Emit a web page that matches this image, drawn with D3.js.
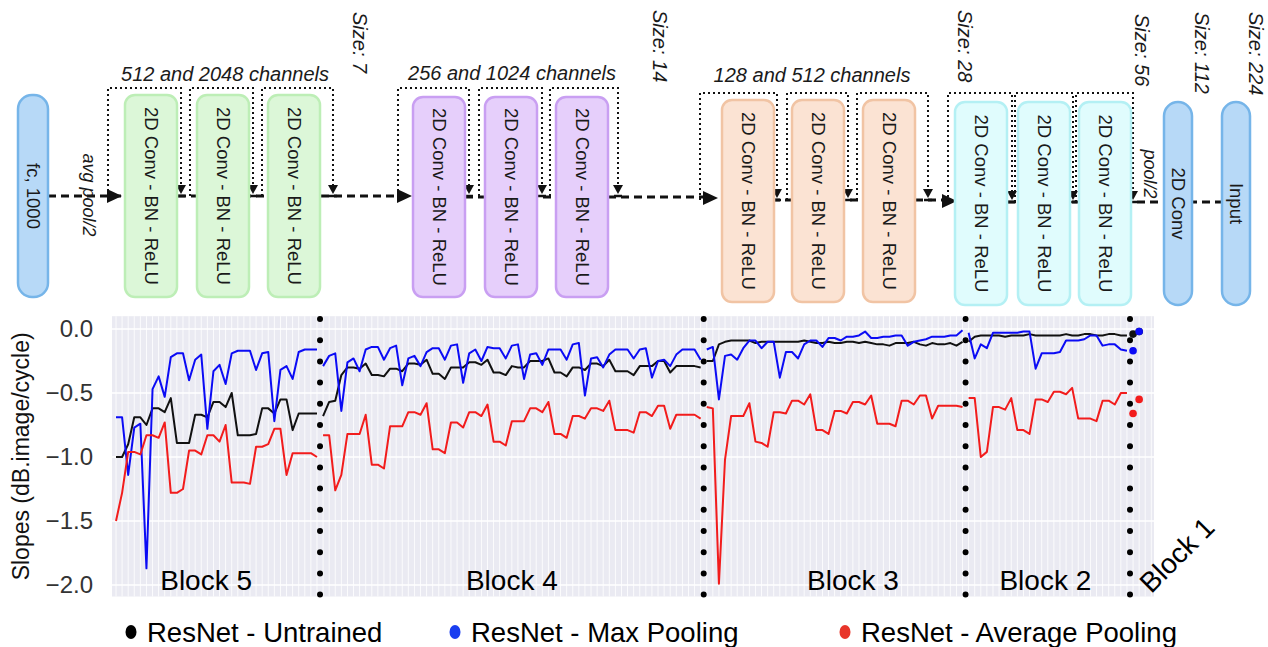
<!DOCTYPE html>
<html>
<head>
<meta charset="utf-8">
<script src="https://cdn.jsdelivr.net/npm/d3@7"></script>
<style>
  html, body { margin: 0; padding: 0; background: #fff; }
  svg { display: block; font-family: 'Liberation Sans', Arial, Helvetica, sans-serif; }
</style>
</head>
<body>
<svg id="chart" width="1268" height="647"></svg>
<script>
// ---- data ----
const blockNames = ['Block 5', 'Block 4', 'Block 3', 'Block 2', 'Block 1'];
const blockSizes = [34, 63, 43, 27, 2];
const yTicks = [0, -0.5, -1, -1.5, -2];
const seriesNames = ['ResNet - Untrained', 'ResNet - Max Pooling', 'ResNet - Average Pooling'];

const untrained = [
  // block 5
  -1.00, -1.00, -0.90, -0.69, -0.69, -0.75, -0.62, -0.62, -0.65, -0.54,
  -0.89, -0.89, -0.89, -0.67, -0.67, -0.69, -0.57, -0.57, -0.61, -0.50,
  -0.83, -0.83, -0.83, -0.82, -0.62, -0.62, -0.66, -0.55, -0.55, -0.79,
  -0.66, -0.66, -0.66, -0.66,
  // block 4
  -0.68, -0.57, -0.56, -0.36, -0.30, -0.30, -0.31, -0.27, -0.36, -0.36,
  -0.37, -0.31, -0.31, -0.33, -0.27, -0.27, -0.28, -0.24, -0.35, -0.35,
  -0.39, -0.30, -0.30, -0.30, -0.26, -0.26, -0.28, -0.24, -0.34, -0.34,
  -0.36, -0.29, -0.30, -0.30, -0.25, -0.25, -0.25, -0.23, -0.34, -0.34,
  -0.37, -0.30, -0.30, -0.32, -0.27, -0.27, -0.29, -0.24, -0.33, -0.33,
  -0.33, -0.36, -0.29, -0.29, -0.29, -0.25, -0.25, -0.34, -0.29, -0.29,
  -0.29, -0.29, -0.30,
  // block 3
  -0.25, -0.25, -0.12, -0.10, -0.09, -0.09, -0.09, -0.09, -0.11, -0.10,
  -0.10, -0.10, -0.10, -0.10, -0.10, -0.10, -0.09, -0.10, -0.11, -0.11,
  -0.10, -0.11, -0.11, -0.10, -0.10, -0.11, -0.10, -0.11, -0.12, -0.12,
  -0.13, -0.11, -0.11, -0.11, -0.10, -0.12, -0.13, -0.11, -0.12, -0.12,
  -0.11, -0.13, -0.10,
  // block 2
  -0.10, -0.06, -0.05, -0.05, -0.05, -0.05, -0.06, -0.05, -0.05, -0.05,
  -0.04, -0.05, -0.05, -0.05, -0.05, -0.05, -0.04, -0.05, -0.05, -0.04,
  -0.04, -0.05, -0.05, -0.04, -0.04, -0.05, -0.05,
  // block 1
  -0.04, -0.02
];

const maxPooling = [
  // block 5
  -0.69, -0.69, -1.14, -0.77, -0.74, -1.87, -0.47, -0.37, -0.53, -0.22,
  -0.19, -0.19, -0.40, -0.24, -0.20, -0.78, -0.33, -0.28, -0.43, -0.19,
  -0.17, -0.17, -0.17, -0.32, -0.19, -0.18, -0.72, -0.32, -0.29, -0.39,
  -0.18, -0.16, -0.16, -0.16,
  // block 4
  -0.29, -0.21, -0.19, -0.64, -0.26, -0.23, -0.33, -0.16, -0.14, -0.14,
  -0.24, -0.15, -0.13, -0.44, -0.23, -0.21, -0.29, -0.18, -0.15, -0.15,
  -0.24, -0.13, -0.12, -0.42, -0.19, -0.16, -0.25, -0.14, -0.15, -0.15,
  -0.23, -0.13, -0.12, -0.39, -0.20, -0.19, -0.28, -0.16, -0.16, -0.16,
  -0.24, -0.12, -0.11, -0.52, -0.23, -0.22, -0.30, -0.20, -0.16, -0.16,
  -0.16, -0.23, -0.16, -0.15, -0.38, -0.25, -0.24, -0.29, -0.20, -0.16,
  -0.16, -0.16, -0.24,
  // block 3
  -0.16, -0.14, -0.55, -0.21, -0.20, -0.24, -0.15, -0.09, -0.09, -0.15,
  -0.10, -0.10, -0.38, -0.18, -0.18, -0.23, -0.12, -0.09, -0.09, -0.14,
  -0.07, -0.07, -0.09, -0.06, -0.06, -0.05, -0.02, -0.07, -0.07, -0.06,
  -0.06, -0.05, -0.05, -0.13, -0.10, -0.09, -0.08, -0.06, -0.06, -0.06,
  -0.05, -0.05, -0.01,
  // block 2
  -0.03, -0.23, -0.12, -0.15, -0.03, -0.03, -0.03, -0.03, -0.03, -0.02,
  -0.02, -0.31, -0.19, -0.19, -0.19, -0.18, -0.09, -0.09, -0.09, -0.08,
  -0.05, -0.05, -0.13, -0.12, -0.12, -0.16, -0.17,
  // block 1
  -0.17, -0.02
];

const avgPooling = [
  // block 5
  -1.50, -1.28, -0.96, -0.96, -0.98, -0.83, -0.83, -0.85, -0.73, -1.28,
  -1.28, -1.25, -0.95, -0.95, -0.98, -0.83, -0.83, -0.88, -0.75, -1.20,
  -1.20, -1.20, -1.21, -0.92, -0.92, -0.90, -0.78, -0.78, -1.14, -0.97,
  -0.97, -0.97, -0.97, -1.00,
  // block 4
  -0.83, -0.83, -1.26, -1.14, -0.82, -0.82, -0.82, -0.67, -1.06, -1.06,
  -1.09, -0.76, -0.76, -0.76, -0.65, -0.65, -0.67, -0.58, -0.94, -0.94,
  -0.97, -0.73, -0.73, -0.77, -0.65, -0.65, -0.68, -0.59, -0.88, -0.88,
  -0.91, -0.72, -0.72, -0.72, -0.62, -0.62, -0.65, -0.57, -0.82, -0.82,
  -0.85, -0.68, -0.68, -0.70, -0.62, -0.62, -0.64, -0.56, -0.79, -0.79,
  -0.79, -0.81, -0.65, -0.65, -0.68, -0.60, -0.60, -0.78, -0.67, -0.67,
  -0.67, -0.67, -0.70,
  // block 3
  -0.61, -0.62, -1.99, -1.02, -0.68, -0.68, -0.68, -0.58, -0.88, -0.89,
  -0.92, -0.65, -0.65, -0.66, -0.56, -0.56, -0.59, -0.51, -0.79, -0.79,
  -0.82, -0.64, -0.64, -0.66, -0.57, -0.57, -0.59, -0.52, -0.74, -0.74,
  -0.74, -0.76, -0.56, -0.56, -0.59, -0.52, -0.52, -0.70, -0.60, -0.60,
  -0.60, -0.60, -0.61,
  // block 2
  -0.54, -0.54, -1.00, -0.96, -0.61, -0.61, -0.63, -0.54, -0.79, -0.79,
  -0.82, -0.55, -0.55, -0.57, -0.49, -0.49, -0.51, -0.46, -0.70, -0.70,
  -0.70, -0.72, -0.56, -0.56, -0.59, -0.50, -0.50,
  // block 1
  -0.66, -0.55
];

// ---- layout ----
const font = "'Liberation Sans', Arial, Helvetica, sans-serif";
const lineColors = ['#111111', '#0b0bf5', '#f21c1c'];
const legendColors = ['#000000', '#1a3ef0', '#e8352a'];
const blockLabelAt = [14.8, 65, 121, 152.6];

const svg = d3.select('#chart');

// ---- network diagram (top) ----
const diagram = svg.append('g');

const stages = [
  { fill: '#dcf7d8', stroke: '#bdeeb6', boxes: [125, 197, 268], y: 95, h: 202, line: 196, top: 88,
    skips: [[108, 181], [190, 253], [262, 333]], label: '512 and 2048 channels', lx: 225, ly: 81 },
  { fill: '#e6cffb', stroke: '#c99ff2', boxes: [413, 485, 556], y: 97, h: 200, line: 196, top: 88,
    skips: [[398, 469], [479, 542], [550, 618]], label: '256 and 1024 channels', lx: 512, ly: 80 },
  { fill: '#fbe3d3', stroke: '#f1c4a4', boxes: [722, 792, 863], y: 100, h: 202, line: 200, top: 93,
    skips: [[700, 777], [787, 848], [857, 928]], label: '128 and 512 channels', lx: 812, ly: 82 },
  { fill: '#e0fcfd', stroke: '#b4f0f4', boxes: [955, 1018, 1079], y: 102, h: 203, line: 202, top: 93,
    skips: [[948, 1012], [1015, 1073], [1076, 1133]], label: null }
];

const mainDashes = [[48, 400, 196], [465, 705, 197], [772, 945, 200], [1007, 1222, 202]];
const rightArrows = [[122, 196], [412, 196], [718, 198], [957, 201]];

const pills = [
  { x: 18, y: 95, w: 30, h: 202, text: 'fc, 1000' },
  { x: 1164, y: 102, w: 28, h: 203, text: '2D Conv' },
  { x: 1222, y: 102, w: 28, h: 203, text: 'Input' }
];

const sizeLabels = [
  { x: 360, y: 12, text: 'Size: 7' },
  { x: 660, y: 10, text: 'Size: 14' },
  { x: 965, y: 10, text: 'Size: 28' },
  { x: 1142, y: 14, text: 'Size: 56' },
  { x: 1202, y: 12, text: 'Size: 112' },
  { x: 1256, y: 12, text: 'Size: 224' }
];

// skip connections (dotted)
stages.forEach(s => {
  s.skips.forEach(([x1, x2]) => {
    diagram.append('path')
      .attr('d', `M${x1},${s.line} V${s.top} H${x2} V${s.line - 10}`)
      .attr('fill', 'none')
      .attr('stroke', '#111')
      .attr('stroke-width', 2)
      .attr('stroke-dasharray', '2,3');
    diagram.append('path')
      .attr('d', `M${x2 - 5},${s.line - 11} L${x2 + 5},${s.line - 11} L${x2},${s.line - 2} Z`)
      .attr('fill', '#111');
    diagram.append('line')
      .attr('x1', x2 - 4).attr('x2', x2 + 4)
      .attr('y1', s.line).attr('y2', s.line)
      .attr('stroke', '#111').attr('stroke-width', 2.5);
  });
});

// main dashed path
mainDashes.forEach(([x1, x2, y]) => {
  diagram.append('line')
    .attr('x1', x1).attr('x2', x2).attr('y1', y).attr('y2', y)
    .attr('stroke', '#111')
    .attr('stroke-width', 3)
    .attr('stroke-dasharray', '8,5');
});

rightArrows.forEach(([x, y]) => {
  diagram.append('path')
    .attr('d', `M${x - 15},${y - 7} L${x},${y} L${x - 15},${y + 7} Z`)
    .attr('fill', '#111');
});

// conv boxes
stages.forEach(s => {
  s.boxes.forEach(x => {
    diagram.append('rect')
      .attr('x', x).attr('y', s.y)
      .attr('width', 52).attr('height', s.h)
      .attr('rx', 10)
      .attr('fill', s.fill)
      .attr('stroke', s.stroke)
      .attr('stroke-width', 2.5);
    diagram.append('text')
      .attr('transform', `translate(${x + 26},${s.y + s.h / 2}) rotate(90)`)
      .attr('text-anchor', 'middle')
      .attr('dominant-baseline', 'central')
      .attr('font-size', 18.5)
      .attr('fill', '#1a1a1a')
      .text('2D Conv - BN - ReLU');
  });
  if (s.label) {
    diagram.append('text')
      .attr('x', s.lx).attr('y', s.ly)
      .attr('text-anchor', 'middle')
      .attr('font-size', 20)
      .attr('font-style', 'italic')
      .attr('fill', '#1a1a1a')
      .text(s.label);
  }
});

pills.forEach(p => {
  diagram.append('rect')
    .attr('x', p.x).attr('y', p.y)
    .attr('width', p.w).attr('height', p.h)
    .attr('rx', 14)
    .attr('fill', '#b7d9f7')
    .attr('stroke', '#76b5e9')
    .attr('stroke-width', 2.5);
  diagram.append('text')
    .attr('transform', `translate(${p.x + p.w / 2},${p.y + p.h / 2}) rotate(90)`)
    .attr('text-anchor', 'middle')
    .attr('dominant-baseline', 'central')
    .attr('font-size', 18.5)
    .attr('fill', '#1a1a1a')
    .text(p.text);
});

sizeLabels.forEach(d => {
  diagram.append('text')
    .attr('transform', `translate(${d.x},${d.y}) rotate(90)`)
    .attr('text-anchor', 'start')
    .attr('dominant-baseline', 'central')
    .attr('font-size', 20)
    .attr('font-style', 'italic')
    .attr('fill', '#1a1a1a')
    .text(d.text);
});

[['avg pool/2', 89, 195], ['pool/2', 1150, 174]].forEach(([t, x, y]) => {
  diagram.append('text')
    .attr('transform', `translate(${x},${y}) rotate(90)`)
    .attr('text-anchor', 'middle')
    .attr('dominant-baseline', 'central')
    .attr('font-size', 18)
    .attr('font-style', 'italic')
    .attr('fill', '#1a1a1a')
    .text(t);
});

// ---- slope chart ----
const starts = blockSizes.map((_, i) => d3.sum(blockSizes.slice(0, i)));

const x = d3.scaleLinear().domain([-0.657, 170.44]).range([112, 1154]);
const y = d3.scaleLinear().domain([0, -2]).range([329, 585]);
const yTop = 0.1, yBottom = -2.09;

const plot = svg.append('g');

plot.append('rect')
  .attr('x', x.range()[0])
  .attr('y', y(yTop))
  .attr('width', x.range()[1] - x.range()[0])
  .attr('height', y(yBottom) - y(yTop))
  .attr('fill', '#eaeaf2');

// vertical grid, one per layer
plot.append('g')
  .selectAll('line')
  .data(d3.range(0, 171))
  .join('line')
  .attr('x1', d => x(d)).attr('x2', d => x(d))
  .attr('y1', y(yTop)).attr('y2', y(yBottom))
  .attr('stroke', '#fff')
  .attr('stroke-width', 1)
  .attr('opacity', 0.85);

// horizontal grid
plot.append('g')
  .selectAll('line')
  .data(yTicks)
  .join('line')
  .attr('x1', x.range()[0]).attr('x2', x.range()[1])
  .attr('y1', d => y(d)).attr('y2', d => y(d))
  .attr('stroke', '#fff')
  .attr('stroke-width', 1.5);

// y axis
const yAxis = g => g
  .attr('transform', `translate(${x.range()[0]},0)`)
  .call(d3.axisLeft(y).tickValues(yTicks).tickFormat(d3.format('.1f')).tickSize(0).tickPadding(19))
  .call(g => g.select('.domain').remove())
  .call(g => g.selectAll('text')
    .attr('font-size', 24)
    .attr('font-family', font)
    .attr('fill', '#333'));
plot.append('g').call(yAxis);

plot.append('text')
  .attr('transform', `translate(21,${(y(yTop) + y(yBottom)) / 2}) rotate(-90)`)
  .attr('text-anchor', 'middle')
  .attr('dominant-baseline', 'central')
  .attr('font-size', 23)
  .attr('fill', '#111')
  .text('Slopes (dB.image/cycle)');

// block dividers
plot.append('g')
  .selectAll('line')
  .data(starts.slice(1))
  .join('line')
  .attr('x1', d => x(d - 0.5)).attr('x2', d => x(d - 0.5))
  .attr('y1', 319).attr('y2', 597)
  .attr('stroke', '#000')
  .attr('stroke-width', 6)
  .attr('stroke-linecap', 'round')
  .attr('stroke-dasharray', '0,21.2');

// series lines per block
const allSeries = [untrained, maxPooling, avgPooling];
const line = d3.line().x(d => x(d[0])).y(d => y(d[1]));

allSeries.forEach((vals, si) => {
  blockSizes.forEach((n, b) => {
    const pts = d3.range(n).map(k => [starts[b] + k, vals[starts[b] + k]]);
    if (b < blockSizes.length - 1) {
      plot.append('path')
        .datum(pts)
        .attr('d', line)
        .attr('fill', 'none')
        .attr('stroke', lineColors[si])
        .attr('stroke-width', 2)
        .attr('stroke-linejoin', 'round');
    } else {
      plot.append('g')
        .selectAll('circle')
        .data(pts)
        .join('circle')
        .attr('cx', d => x(d[0]))
        .attr('cy', d => y(d[1]))
        .attr('r', 3.8)
        .attr('fill', lineColors[si]);
    }
  });
});

// block labels
blockNames.slice(0, 4).forEach((name, i) => {
  plot.append('text')
    .attr('x', x(blockLabelAt[i]))
    .attr('y', 590)
    .attr('text-anchor', 'middle')
    .attr('font-size', 28)
    .attr('fill', '#000')
    .text(name);
});
plot.append('text')
  .attr('transform', 'translate(1177,555) rotate(-45)')
  .attr('text-anchor', 'middle')
  .attr('dominant-baseline', 'central')
  .attr('font-size', 28)
  .attr('fill', '#000')
  .text(blockNames[4]);

// ---- legend ----
const legendX = [131, 455, 845];
const legend = svg.append('g');
seriesNames.forEach((name, i) => {
  legend.append('ellipse')
    .attr('cx', legendX[i]).attr('cy', 632)
    .attr('rx', 5.5).attr('ry', 7)
    .attr('fill', legendColors[i]);
  legend.append('text')
    .attr('x', legendX[i] + 16).attr('y', 632)
    .attr('dominant-baseline', 'central')
    .attr('font-size', 27.5)
    .attr('fill', '#000')
    .text(name);
});
</script>
</body>
</html>
